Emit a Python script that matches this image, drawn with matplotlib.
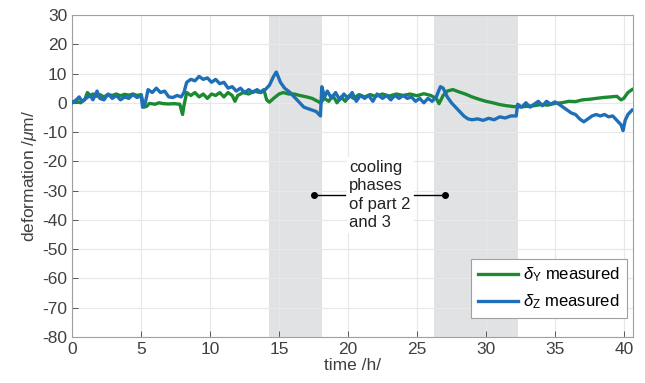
import matplotlib

matplotlib.use("Agg")
import matplotlib.pyplot as plt

# time /h/ and deformation /um/
t_y = [0, 0.3, 0.6, 0.9, 1.1, 1.3, 1.5, 1.8, 2.0, 2.3, 2.6, 2.9, 3.2, 3.5, 3.8, 4.1, 4.4,
       4.7, 5.0, 5.2, 5.4, 5.6, 6.0, 6.3, 6.6, 7.0, 7.4, 7.8, 8.0, 8.1, 8.3, 8.6, 8.9, 9.2,
       9.5, 9.8, 10.1, 10.4, 10.7, 11.0, 11.3, 11.6, 11.8, 12.0, 12.4, 12.8, 13.2, 13.6,
       13.9, 14.1, 14.3, 14.6, 15.0, 15.3, 15.7, 16.1, 16.5, 17.0, 17.4, 17.8, 18.0, 18.3,
       18.6, 18.9, 19.2, 19.5, 19.8, 20.1, 20.4, 20.8, 21.2, 21.6, 22.0, 22.5, 23.0, 23.5,
       24.0, 24.5, 25.0, 25.5, 26.0, 26.4, 26.6, 26.9, 27.2, 27.6, 28.0, 28.5, 29.0, 29.5,
       30.0, 30.5, 31.0, 31.5, 32.0, 32.5, 33.0, 33.5, 34.0, 34.5, 35.0, 35.5, 36.0, 36.5,
       37.0, 37.5, 38.0, 38.5, 39.0, 39.5, 39.8, 40.0, 40.3, 40.6]
d_y = [0.3, 0.5, 0, 1, 3.5, 2.5, 3, 2.2, 2.8, 2, 2.8, 2.5, 3, 2.4, 2.9, 2.6, 3,
       2.5, 2.8, -1.5, -1.2, -0.2, -0.5, 0, -0.3, -0.4, -0.3, -0.5, -4, -1, 3.5, 2.5, 3.5, 2,
       3, 1.5, 3, 2.5, 3.5, 2, 3.5, 2.5, 0.5, 2.5, 3.5, 3, 4, 3.5,
       4.5, 1, 0.2, 1.5, 3, 3.5, 3, 3, 2.5, 2, 1.5, 0.5, 0, 1.5,
       0.5, 2.5, 0, 2, 0.5, 2.5, 1.5, 2.8, 2, 2.8, 2.2, 3, 2.3, 3,
       2.5, 3, 2.4, 3.1, 2.5, 1.5, -0.3, 2.5, 4, 4.5, 3.8, 3, 2, 1.2,
       0.5, 0, -0.6, -1, -1.3, -1.4, -1.2, -1, -0.6, -0.8, -0.2, 0, 0.5, 0.4,
       1, 1.2, 1.5, 1.8, 2, 2.2, 1.0, 1.5, 3.5, 4.5]

t_z = [0, 0.3, 0.5, 0.7, 1.0, 1.3, 1.5, 1.8, 2.0, 2.3, 2.6, 2.9, 3.2, 3.5, 3.8, 4.1, 4.4,
       4.7, 5.0, 5.1, 5.3, 5.5, 5.8, 6.1, 6.4, 6.7, 7.0, 7.3, 7.6, 7.9, 8.1, 8.3, 8.6, 8.9,
       9.2, 9.5, 9.8, 10.1, 10.4, 10.7, 11.0, 11.3, 11.6, 11.9, 12.2, 12.5, 12.8, 13.1,
       13.4, 13.7, 14.0, 14.3, 14.6, 14.8, 15.1, 15.4, 15.8, 16.1, 16.5, 16.8, 17.1, 17.4,
       17.7, 18.0, 18.1, 18.3, 18.5, 18.8, 19.1, 19.4, 19.7, 20.0, 20.3, 20.6, 20.9, 21.2,
       21.5, 21.8, 22.1, 22.5, 22.8, 23.1, 23.4, 23.7, 24.0, 24.3, 24.6, 24.9, 25.2, 25.5,
       25.8, 26.1, 26.4, 26.7, 26.9, 27.2, 27.5, 27.8, 28.1, 28.4, 28.7, 29.0, 29.4, 29.8,
       30.2, 30.6, 31.0, 31.4, 31.8, 32.2, 32.3, 32.6, 32.9, 33.2, 33.5, 33.8, 34.1, 34.4,
       34.7, 35.0, 35.3, 35.6, 35.9, 36.2, 36.5, 36.8, 37.1, 37.4, 37.7, 38.0, 38.3, 38.6,
       38.9, 39.2, 39.5, 39.8, 39.95, 40.1, 40.3, 40.6]
d_z = [0, 1, 2, 0.5, 1.5, 2.5, 1, 4, 1.5, 1, 3, 1.5, 2.5, 1, 2, 1.5, 2.8,
       1.8, 2.5, -1.5, 0, 4.5, 3.5, 5, 3.5, 4, 2, 1.8, 2.5, 2, 3.5, 7, 8, 7.5,
       9, 8, 8.5, 7, 8, 6.5, 7, 5, 5.5, 4, 5, 3.5, 4.5, 3.5,
       4.5, 3.5, 4.5, 6, 9, 10.5, 7, 5, 3.5, 2, 0, -1.5, -2, -2.5,
       -3, -4.5, 5.5, 2, 4, 1.5, 3.5, 1, 3, 1.5, 3.5, 0.5, 2.5, 1.5,
       2.5, 0.5, 3, 1.5, 2.5, 1, 2.5, 1.5, 2.5, 1.5, 2, 0.5, 1.5, 0,
       1.5, 0.5, 2, 5.5, 5, 2, 0, -1.5, -3, -4.5, -5.5, -5.8, -5.5, -6,
       -5.3, -5.8, -4.8, -5.2, -4.5, -4.5, -0.5, -1.5, 0, -1.5, -0.5, 0.5, -1, 0.5,
       -0.5, 0.3, -0.5, -1.5, -2.5, -3.5, -4, -5.5, -6.5, -5.5, -4.5, -4, -4.5, -4,
       -4.8, -4.5, -6, -7.5, -9.5, -6, -4, -2.5]

cooling = [(14.3, 18.1), (26.2, 32.3)]
x_ticks = list(range(0, 41, 5))
y_ticks = list(range(-80, 31, 10))

plt.rcParams["font.family"] = ["Liberation Sans", "DejaVu Sans"]
plt.rcParams["mathtext.fontset"] = "custom"
plt.rcParams["mathtext.it"] = "Liberation Sans:italic"
plt.rcParams["mathtext.rm"] = "Liberation Sans"
plt.rcParams["axes.unicode_minus"] = False

fig = plt.figure(figsize=(6.45, 3.83), dpi=100)
ax = fig.add_axes([0.112, 0.12, 0.869, 0.841])

ax.grid(True, color="#e8e8e8", lw=0.9, zorder=0)
for a, b in cooling:
    ax.axvspan(a, b, color="#e1e2e4", lw=0, zorder=1)

ax.plot(t_y, d_y, color="#1c8a30", lw=2.4, zorder=3, label=r"$\delta_{\rm Y}$ measured")
ax.plot(t_z, d_z, color="#1f6fb8", lw=2.4, zorder=4, label=r"$\delta_{\rm Z}$ measured")

# annotation for cooling phases
ax.text(20.1, -31.5, "cooling\nphases\nof part 2\nand 3", fontsize=12, color="#222222",
        ha="left", va="center", linespacing=1.3, zorder=5,
        bbox=dict(facecolor="white", edgecolor="none", pad=2))
ax.plot([17.5, 19.8], [-31.5, -31.5], color="black", lw=1, zorder=5)
ax.plot([24.8, 27.0], [-31.5, -31.5], color="black", lw=1, zorder=5)
ax.plot([17.5, 27.0], [-31.5, -31.5], ls="none", marker="o", ms=4, color="black", zorder=6)

ax.set_xlim(0, 40.65)
ax.set_ylim(-80, 30)
ax.set_xticks(x_ticks)
ax.set_yticks(y_ticks)
ax.tick_params(labelsize=12.5, colors="#404040", direction="in", length=4, width=0.6)
for s in ax.spines.values():
    s.set_color("#a0a0a0")
    s.set_linewidth(0.8)
ax.set_xlabel("time /h/", fontsize=12.5, color="#404040", labelpad=1)
ax.set_ylabel(r"deformation /$\mu$m/", fontsize=12.5, color="#404040", labelpad=2)

leg = ax.legend(loc="lower right", bbox_to_anchor=(0.989, 0.059), borderaxespad=0,
                fontsize=12, frameon=True, fancybox=False, handlelength=2.4,
                handletextpad=0.3, labelspacing=0.5, framealpha=1)
leg.get_frame().set_edgecolor("#a0a0a0")
leg.get_frame().set_linewidth(0.8)
leg.set_zorder(7)

fig.savefig("out.png", dpi=100)
